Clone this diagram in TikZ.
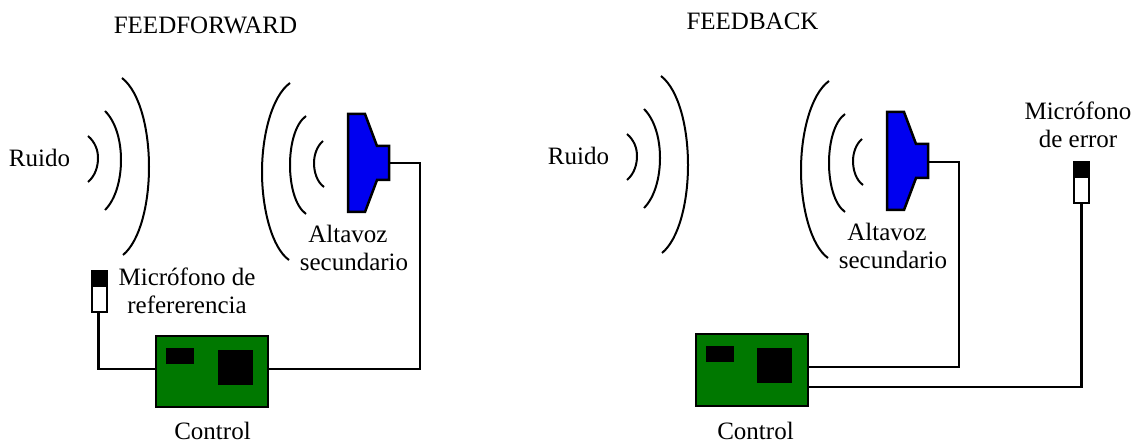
\documentclass[tikz,border=0pt]{standalone}
\usepackage{fontspec}
\setmainfont{Liberation Serif}
\definecolor{boardgreen}{RGB}{0,120,0}
\definecolor{hornblue}{RGB}{0,0,240}
\tikzset{
  wave/.style={line width=2pt},
  wire/.style={line width=2.2pt},
  label/.style={font=\fontsize{25}{28}\selectfont, inner sep=0pt, align=center},
  board/.style={draw=black, line width=2pt, fill=boardgreen, minimum width=112pt, minimum height=71pt, inner sep=0pt},
  chip/.style={fill=black, inner sep=0pt},
  micbody/.style={draw=black, line width=2pt, fill=white, minimum width=15pt, minimum height=41pt, inner sep=0pt},
  mictop/.style={fill=black, minimum width=15pt, minimum height=16pt, inner sep=0pt},
  horn/.style={draw=black, line width=2.5pt, fill=hornblue, line join=miter}
}
\begin{document}
\begin{tikzpicture}[x=1pt, y=-1pt]
\useasboundingbox (0,0) rectangle (1135,443);

% feedforward
\node[label] (titleA) at (205.5,25) {FEEDFORWARD};
\node[label] (noiseA) at (39.5,158) {Ruido};
\draw[wave] (88,136) .. controls (95,142) and (98,150) .. (98,158) .. controls (98,167) and (95,176) .. (88,182);
\draw[wave] (105,111) .. controls (116,122) and (121,141) .. (121,160) .. controls (121,179) and (116,199) .. (105,210);
\draw[wave] (122,78) .. controls (140,92) and (149,130) .. (149,167) .. controls (149,204) and (140,241) .. (123,255);
\draw[wave] (323,141) .. controls (317,146) and (314,155) .. (314,163) .. controls (314,172) and (317,182) .. (324,187);
\draw[wave] (306,116) .. controls (295,124) and (290,145) .. (290,165) .. controls (290,185) and (295,206) .. (306,214);
\draw[wave] (290,83) .. controls (272,96) and (262,135) .. (262,172) .. controls (262,209) and (272,248) .. (289,260);
\draw[horn] (348,114) -- (365,114) -- (377,146) -- (389,146) -- (389,180) -- (377,180) -- (365,212) -- (348,212) -- cycle;
\coordinate (hornA) at (389,163);
\coordinate (bendA) at (420,369);
\node[label] (speakerA) at (354,248) {Altavoz\hspace*{12pt}\\secundario};
\node[micbody] (micA) at (99.5,291.5) {};
\node[mictop] (capA) at (99.5,279) {};
\node[label] (micnameA) at (187,291) {Micrófono de\\refererencia};
\node[board] (ctrlA) at (212,371.5) {};
\node[chip, minimum width=28pt, minimum height=16pt] (chipaA) at (180,356) {};
\node[chip, minimum width=35pt, minimum height=35pt] (chipbA) at (235.5,367.5) {};
\node[label] (ctrlnameA) at (212.5,430.5) {Control};
\draw[wire] ([xshift=-1pt]micA.south) |- ([yshift=2.5pt]ctrlA.west);
\draw[wire] ([yshift=2.5pt]ctrlA.east) -- (bendA) -- (bendA |- hornA) -- (hornA);

% feedback
\node[label] (titleB) at (752.5,21) {FEEDBACK};
\node[label] (noiseB) at (578.5,156) {Ruido};
\draw[wave] (627,134) .. controls (634,140) and (637,148) .. (637,156) .. controls (637,165) and (634,174) .. (627,180);
\draw[wave] (644,109) .. controls (655,120) and (660,139) .. (660,158) .. controls (660,177) and (655,197) .. (644,208);
\draw[wave] (661,76) .. controls (679,90) and (688,128) .. (688,165) .. controls (688,202) and (679,239) .. (662,253);
\draw[wave] (862,139) .. controls (856,144) and (853,153) .. (853,161) .. controls (853,170) and (856,180) .. (863,185);
\draw[wave] (845,114) .. controls (834,122) and (829,143) .. (829,163) .. controls (829,183) and (834,204) .. (845,212);
\draw[wave] (829,81) .. controls (811,94) and (801,133) .. (801,170) .. controls (801,207) and (811,246) .. (828,258);
\draw[horn] (887,112) -- (904,112) -- (916,144) -- (928,144) -- (928,178) -- (916,178) -- (904,210) -- (887,210) -- cycle;
\coordinate (hornB) at (928,162);
\coordinate (bendB) at (959,367);
\node[label] (speakerB) at (893,246) {Altavoz\hspace*{12pt}\\secundario};
\node[micbody] (micB) at (1081.5,183) {};
\node[mictop] (capB) at (1081.5,170.5) {};
\node[label] (micnameB) at (1078,125) {Micrófono\\de error};
\node[board] (ctrlB) at (751.5,370) {};
\node[chip, minimum width=28pt, minimum height=16pt] (chipaB) at (719.5,354) {};
\node[chip, minimum width=35pt, minimum height=35pt] (chipbB) at (774.5,366) {};
\node[label] (ctrlnameB) at (755.5,430.5) {Control};
\draw[wire] ([yshift=3pt]ctrlB.east) -- (bendB) -- (bendB |- hornB) -- (hornB);
\draw[wire] ([yshift=-17pt]ctrlB.east) -| (micB.south);
\end{tikzpicture}
\end{document}
